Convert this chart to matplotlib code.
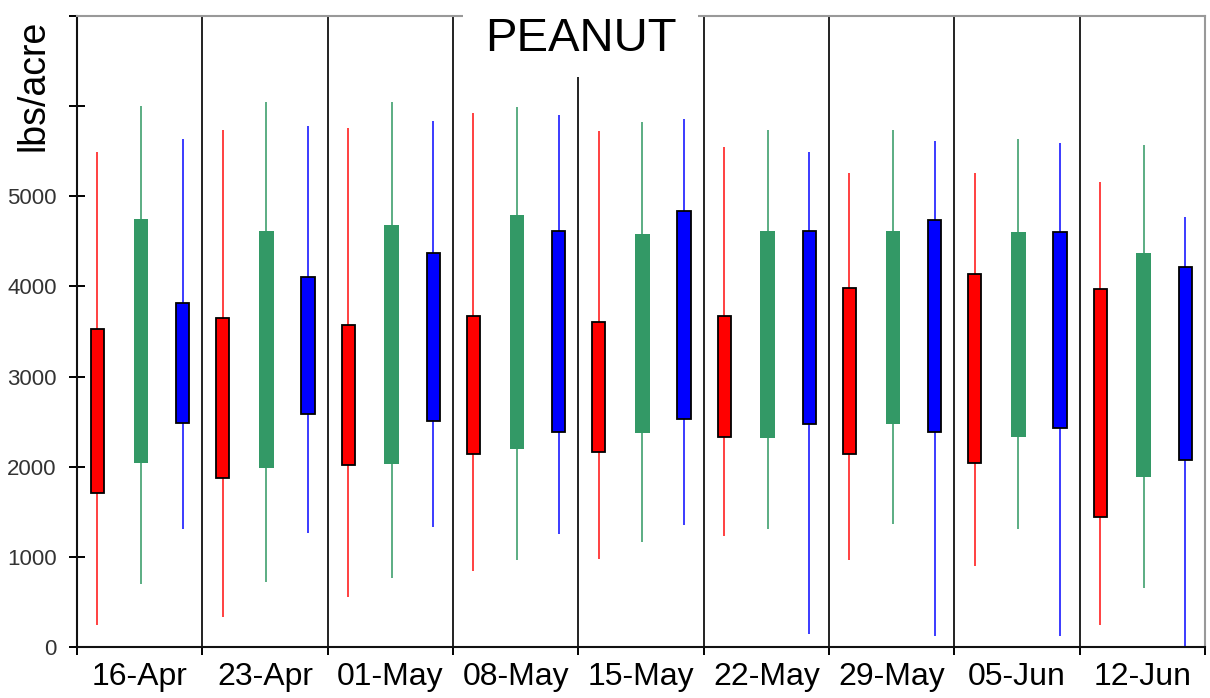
import matplotlib
matplotlib.use("Agg")
import matplotlib.pyplot as plt
from matplotlib.patches import Rectangle

plt.rcParams['font.family'] = ['Liberation Sans', 'DejaVu Sans']

dates = ['16-Apr', '23-Apr', '01-May', '08-May', '15-May',
         '22-May', '29-May', '05-Jun', '12-Jun']

# red series: whisker low, box low, box high, whisker high
red_low = [240, 330, 550, 840, 980, 1230, 960, 900, 240]
red_q1 = [1710, 1870, 2020, 2140, 2160, 2330, 2140, 2040, 1440]
red_q3 = [3530, 3650, 3570, 3670, 3610, 3670, 3980, 4140, 3970]
red_high = [5490, 5740, 5760, 5920, 5720, 5550, 5260, 5260, 5160]

# green series
green_low = [700, 720, 770, 960, 1170, 1310, 1370, 1310, 660]
green_q1 = [2040, 1990, 2030, 2200, 2370, 2320, 2470, 2330, 1890]
green_q3 = [4750, 4620, 4680, 4790, 4580, 4620, 4620, 4600, 4370]
green_high = [6000, 6050, 6050, 5990, 5820, 5740, 5740, 5630, 5570]

# blue series
blue_low = [1310, 1270, 1330, 1250, 1350, 140, 120, 120, 0]
blue_q1 = [2490, 2590, 2510, 2390, 2530, 2470, 2390, 2430, 2080]
blue_q3 = [3820, 4100, 4370, 4620, 4840, 4620, 4740, 4600, 4220]
blue_high = [5630, 5780, 5840, 5900, 5860, 5490, 5610, 5590, 4770]

y_ticks = [0, 1000, 2000, 3000, 4000, 5000, 6000, 7000]
y_labels = ['0', '1000', '2000', '3000', '4000', '5000', '', '']

W, H = 1210, 698
fig = plt.figure(figsize=(W / 100, H / 100), dpi=100)
ax = fig.add_axes([77 / W, 1 - 647 / H, (1205 - 77) / W, (647 - 16) / H])

series = [
    (red_low, red_q1, red_q3, red_high, 0.163, '#ff0000', '#ff2020', True),
    (green_low, green_q1, green_q3, green_high, 0.51, '#339966', '#3f9f6e', False),
    (blue_low, blue_q1, blue_q3, blue_high, 0.843, '#0000ff', '#1a1aff', True),
]

for lows, q1s, q3s, highs, off, fill, wcol, edged in series:
    for i in range(len(dates)):
        x = i + off
        ax.plot([x, x], [lows[i], highs[i]], color=wcol, lw=1.2,
                solid_capstyle='butt', zorder=2)
        if edged:
            ax.bar(x, q3s[i] - q1s[i], bottom=q1s[i], width=0.105,
                   color=fill, edgecolor='black', linewidth=1.3, zorder=3)
        else:
            ax.bar(x, q3s[i] - q1s[i], bottom=q1s[i], width=0.117,
                   color=fill, edgecolor='none', zorder=3)

# vertical separators between dates
for b in range(1, len(dates)):
    ax.axvline(b, color='#222222', lw=1.4, zorder=1)

ax.set_xlim(0, len(dates))
ax.set_ylim(0, 7000)

ax.set_yticks(y_ticks)
ax.set_yticklabels(y_labels, fontsize=16, color='#333333')
ax.tick_params(axis='y', direction='inout', length=11, width=1.4, pad=9)

ax.set_xticks(range(len(dates) + 1))
ax.set_xticklabels([])
ax.tick_params(axis='x', which='major', direction='out', length=6, width=1.4)
ax.set_xticks([i + 0.5 for i in range(len(dates))], minor=True)
ax.set_xticklabels(dates, minor=True, fontsize=23)
ax.tick_params(axis='x', which='minor', length=0, pad=11)

for side in ('left', 'bottom'):
    ax.spines[side].set_color('#111111')
    ax.spines[side].set_linewidth(1.5)
for side in ('top', 'right'):
    ax.spines[side].set_color('#999999')
    ax.spines[side].set_linewidth(1.5)

fig.text(34 / W, 1 - 85 / H, 'lbs/acre', rotation=90, fontsize=27,
         ha='center', va='center')

# title sits on a white panel that interrupts the top of the frame
fig.add_artist(Rectangle((463 / W, 1 - 77 / H), (698 - 463) / W, 77 / H,
                         transform=fig.transFigure, facecolor='white',
                         edgecolor='none', zorder=5))
fig.text(581 / W, 1 - 39 / H, 'PEANUT', fontsize=34, ha='center',
         va='center', zorder=6)

fig.savefig('out.png', dpi=100)
